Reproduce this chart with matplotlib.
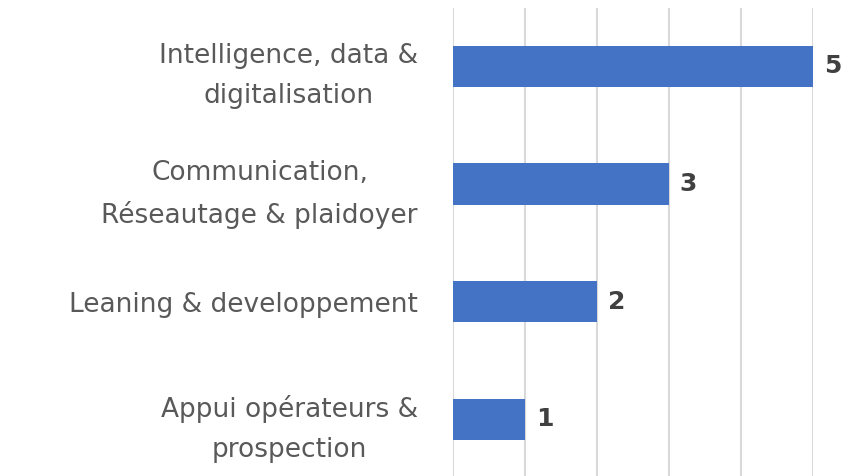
import matplotlib.pyplot as plt

# données du graphique
categories = ["Intelligence, data &\ndigitalisation",
              "Communication,\nRéseautage & plaidoyer",
              "Leaning & developpement",
              "Appui opérateurs &\nprospection"]
valeurs = [5, 3, 2, 1]

plt.rcParams['font.family'] = ['DejaVu Sans']

fig = plt.figure(figsize=(8.43, 4.76), dpi=100)
ax = fig.add_axes([0.537, -0.004, 0.427, 0.988])

pos = list(range(len(categories)))
ax.barh(pos, valeurs, height=0.35, color='#4472C4', zorder=3)

# étiquettes de valeurs
for y, v in zip(pos, valeurs):
    ax.annotate(str(v), (v, y), xytext=(8, 0), textcoords='offset points',
                ha='left', va='center', fontsize=18, fontweight='bold', color='#404040')

ax.set_xlim(0, 5)
ax.set_ylim(3.5, -0.5)
ax.set_xticks(range(6))
ax.set_xticklabels([])
ax.set_yticks(pos)
ax.set_yticklabels(categories, fontsize=19, color='#595959',
                   multialignment='center', linespacing=1.7)
ax.tick_params(axis='both', length=0)
ax.tick_params(axis='y', pad=25)
ax.grid(axis='x', color='#D9D9D9', linewidth=1.5, zorder=0)
for s in ax.spines.values():
    s.set_visible(False)

plt.savefig('out.png', dpi=100)
